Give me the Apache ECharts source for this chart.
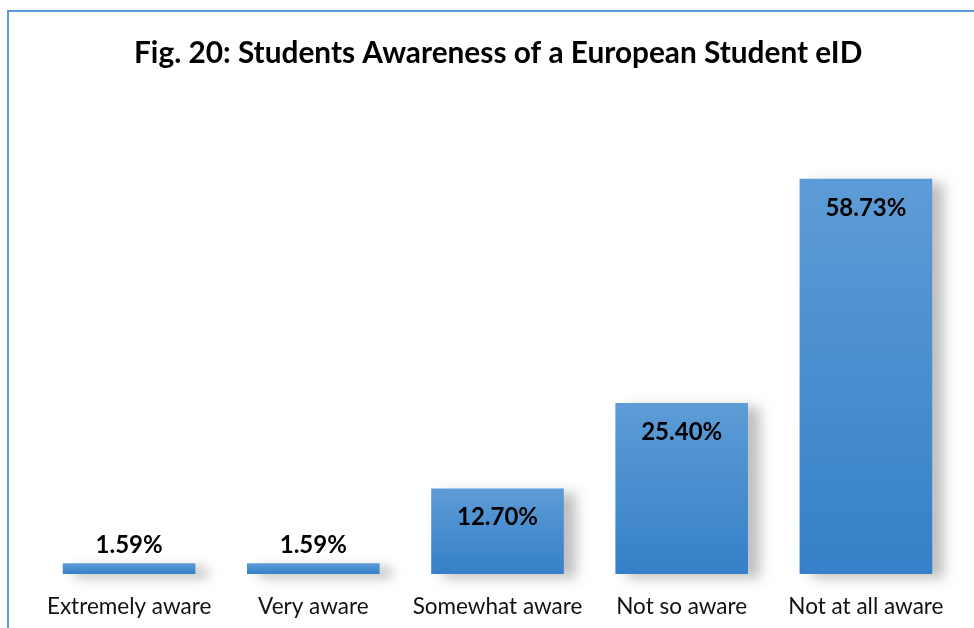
<!DOCTYPE html>
<html>
<head>
<meta charset="utf-8">
<script src="https://cdn.jsdelivr.net/npm/echarts@6/dist/echarts.min.js"></script>
<style>
  html, body { margin: 0; padding: 0; background: #fff; }
  #chart { width: 974px; height: 628px; }
</style>
</head>
<body>
<div id="chart"></div>
<script>
const categories = ['Extremely aware', 'Very aware', 'Somewhat aware', 'Not so aware', 'Not at all aware'];
const values = [1.59, 1.59, 12.70, 25.40, 58.73];
const insideLimit = 10; // bars taller than this carry the label inside

let myChart = echarts.init(document.getElementById('chart'));

let barData = values.map(function (v) {
  return {
    value: v,
    label: v > insideLimit
      ? { position: 'insideTop', distance: 17 }
      : { position: 'top', distance: 6 }
  };
});

let option = {
  animation: false,
  textStyle: { fontFamily: 'Lato' },
  title: {
    text: 'Fig. 20: Students Awareness of a European Student eID',
    left: 129,
    top: 33,
    textStyle: { fontFamily: 'Lato', fontWeight: 'bold', fontSize: 29.8, color: '#000' }
  },
  graphic: [{
    type: 'rect',
    shape: { x: 8, y: 11, width: 1200, height: 1000 },
    style: { fill: 'none', stroke: '#5b9bd5', lineWidth: 2 },
    silent: true
  }],
  grid: { left: 37, right: 16, top: 103, bottom: 54 },
  xAxis: {
    type: 'category',
    data: categories,
    axisLine: { show: false },
    axisTick: { show: false },
    axisLabel: { interval: 0, fontSize: 22.5, color: '#111', margin: 21, fontFamily: 'Lato' }
  },
  yAxis: {
    type: 'value',
    min: 0,
    max: 70,
    show: false,
    splitLine: { show: false }
  },
  series: [{
    type: 'bar',
    data: barData,
    barCategoryGap: '28%',
    itemStyle: {
      color: new echarts.graphic.LinearGradient(0, 0, 0, 1, [
        { offset: 0, color: '#5d9cd6' },
        { offset: 1, color: '#3580c8' }
      ]),
      shadowColor: 'rgba(0,0,0,0.25)',
      shadowBlur: 12,
      shadowOffsetX: 12,
      shadowOffsetY: 4
    },
    label: {
      show: true,
      formatter: function (p) { return p.value.toFixed(2) + '%'; },
      fontFamily: 'Lato',
      fontWeight: 'bold',
      fontSize: 24,
      color: '#000'
    }
  }]
};

myChart.setOption(option);
</script>
</body>
</html>
